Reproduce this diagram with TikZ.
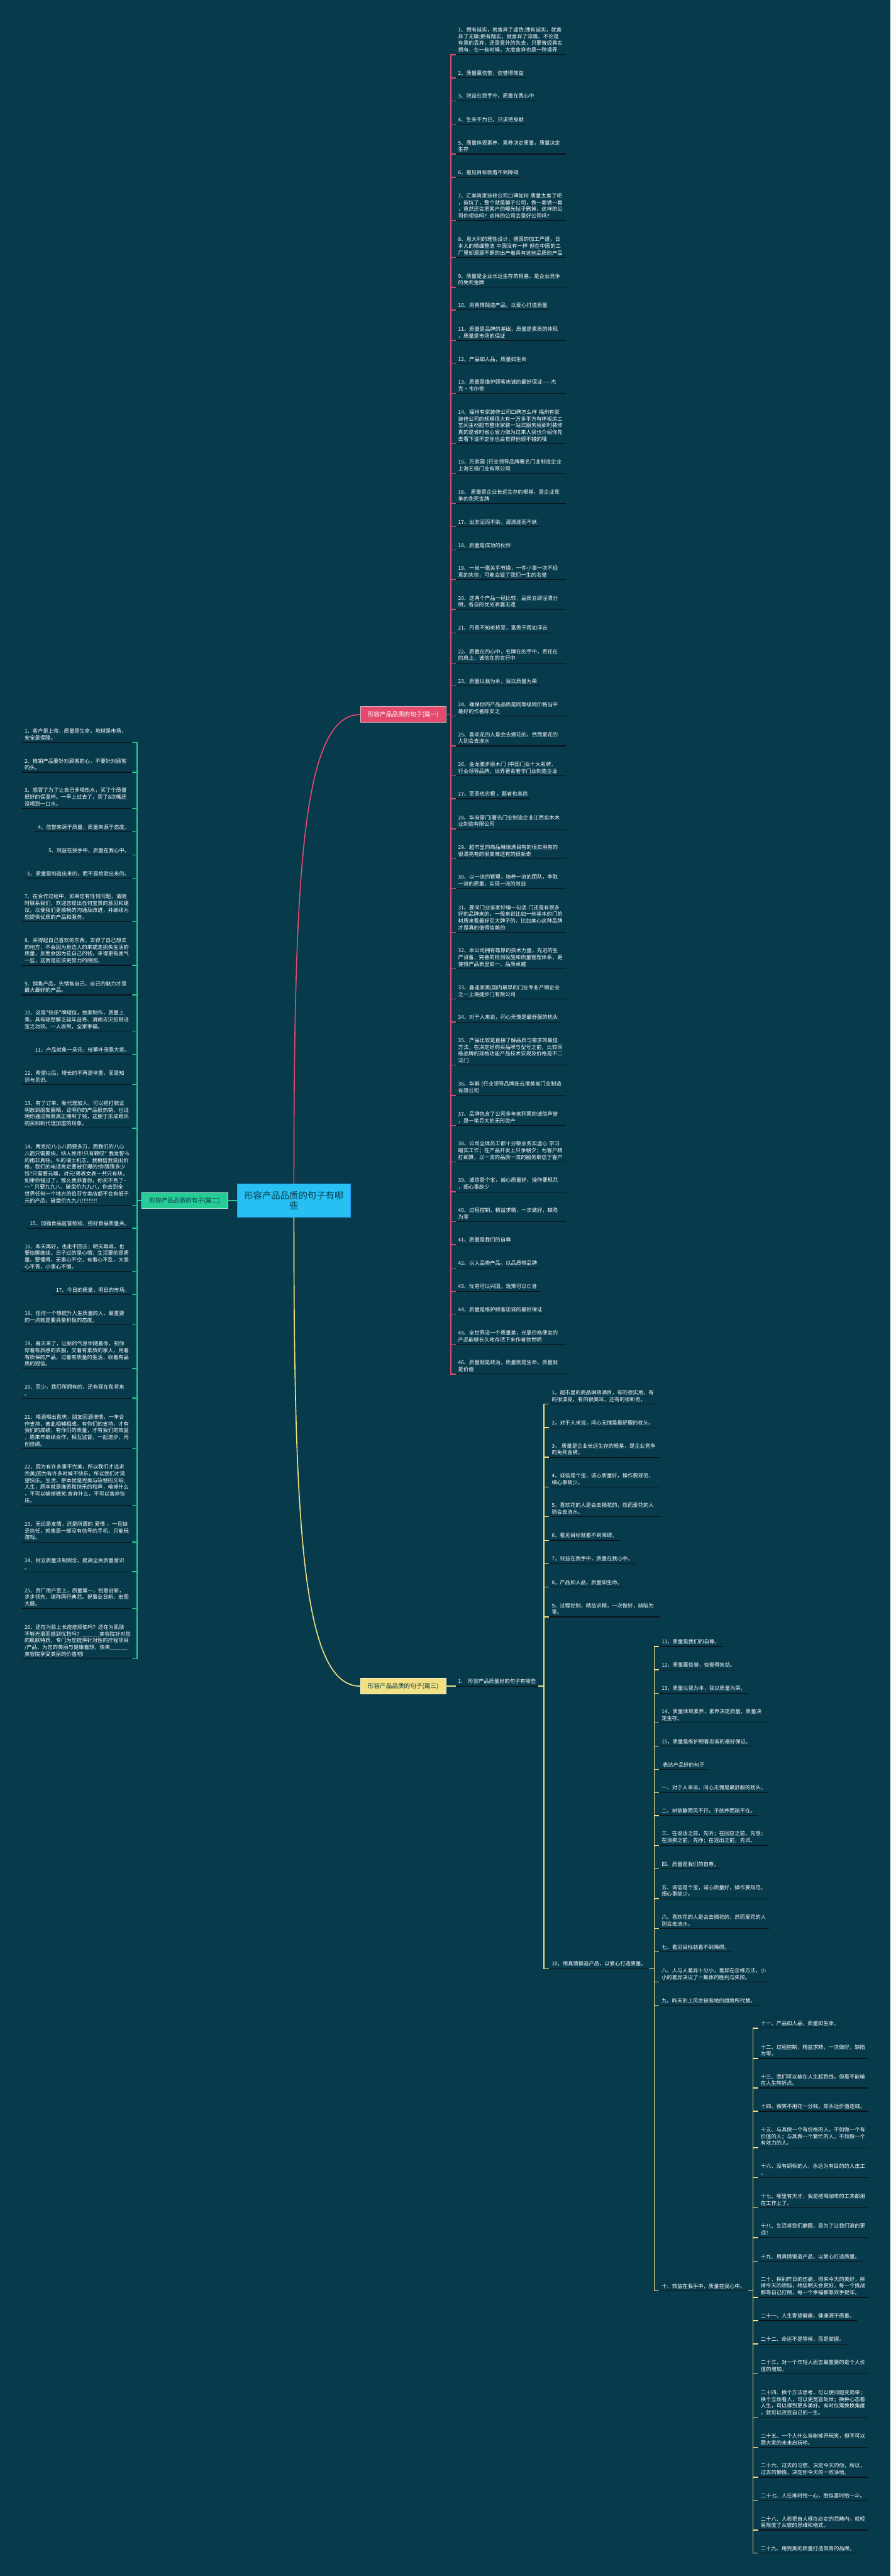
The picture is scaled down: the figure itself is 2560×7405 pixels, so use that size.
\documentclass[tikz,border=0pt]{standalone}
\usepackage{fontspec}
\newfontfamily\cjk{Noto Sans CJK SC}
\newcommand\leaffont{\cjk\fontsize{7.5}{9.65}\selectfont}
\newcommand\labelfont{\cjk\fontsize{8.7}{10}\selectfont}
\definecolor{bgcol}{RGB}{7,58,75}
\definecolor{pinkc}{RGB}{228,74,110}
\definecolor{greenc}{RGB}{38,204,150}
\definecolor{yellowc}{RGB}{242,224,130}
\definecolor{rootc}{RGB}{40,192,242}
\definecolor{ulinec}{RGB}{10,18,24}

\begin{document}
\begin{tikzpicture}[x=0.5pt, y=-0.5pt,
  every node/.style={font=\leaffont},
  leaf/.style={text=white, align=left, inner xsep=3.5pt, inner ysep=3pt,
    append after command={(\tikzlastnode.south west) edge[uline] (\tikzlastnode.south east)}},
  wide/.style={text width=151pt},
  uline/.style={draw=ulinec, line width=1pt},
  pinkline/.style={draw=pinkc, line width=1.2pt},
  greenline/.style={draw=greenc, line width=1.2pt},
  yellowline/.style={draw=yellowc, line width=1.2pt},
  branch/.style={font=\labelfont, minimum width=123pt, minimum height=22.5pt, inner sep=2pt}]
  \fill[bgcol] (0,0) rectangle (2560,7405);

  % centre and the three branches
  \node[fill=rootc, draw=rootc!80!blue, text=bgcol, font=\cjk\fontsize{13}{15}\selectfont, minimum width=163pt, minimum height=47.5pt, align=center] (root) at (845,3451) {形容产品品质的句子有哪\\些};
  \node[branch, fill=pinkc, draw=pinkc!40!white, text=white] (p1) at (1159,2054) {形容产品品质的句子(篇一)};
  \node[branch, fill=greenc, draw=greenc!40!white, text=bgcol] (p2) at (531,3451) {形容产品品质的句子(篇二)};
  \node[branch, fill=yellowc, draw=yellowc!40!white, text=bgcol] (p3) at (1159,4847) {形容产品品质的句子(篇三)};
  \draw[pinkline, line width=1.5pt] (root) .. controls (845,2500) and (870,2054) .. (p1.west);
  \draw[greenline, line width=1.5pt] (root) -- (p2);
  \draw[yellowline, line width=1.5pt] (root) .. controls (845,4400) and (870,4847) .. (p3.west);

  % 篇一
  \node[leaf, wide, anchor=south west] (a1) at (1310,157) {1、拥有诚实，就舍弃了虚伪;拥有诚实，就舍\\弃了无聊;拥有踏实，就舍弃了浮躁，不论是\\有意的丢弃，还是意外的失去，只要曾经真实\\拥有，在一些时候，大度舍弃也是一种境界};
  \node[leaf, anchor=south west] (a2) at (1310,224) {2、质量赢信誉，信誉得效益};
  \node[leaf, anchor=south west] (a3) at (1310,290) {3、效益在我手中，质量在我心中};
  \node[leaf, anchor=south west] (a4) at (1310,357) {4、生来不为已，只求把身献};
  \node[leaf, wide, anchor=south west] (a5) at (1310,443) {5、质量体现素养，素养决定质量，质量决定\\生存};
  \node[leaf, anchor=south west] (a6) at (1310,510) {6、看见目标就看不到障碍};
  \node[leaf, wide, anchor=south west] (a7) at (1310,634) {7、汇美筑家装修公司口碑如何 质量太差了吧\\，被坑了，整个就是骗子公司，做一套做一套\\，竟然还会把客户的曝光帖子删掉，这样的公\\司你相信吗？这样的公司会是好公司吗？};
  \node[leaf, wide, anchor=south west] (a8) at (1310,740) {8、意大利的理性设计，德国的加工严谨，日\\本人的精细整洁 中国没有一样 但在中国的工\\厂里却源源不断的出产着具有这些品质的产品};
  \node[leaf, wide, anchor=south west] (a9) at (1310,826) {9、质量是企业长远生存的根基，是企业竞争\\的免死金牌};
  \node[leaf, anchor=south west] (a10) at (1310,891) {10、用真情锻造产品，以爱心打造质量};
  \node[leaf, wide, anchor=south west] (a11) at (1310,979) {11、质量是品牌的基础，质量是素质的体现\\，质量是市场的保证};
  \node[leaf, anchor=south west] (a12) at (1310,1046) {12、产品如人品，质量如生命};
  \node[leaf, wide, anchor=south west] (a13) at (1310,1131) {13、质量是维护顾客忠诚的最好保证——杰\\克·韦尔奇};
  \node[leaf, wide, anchor=south west] (a14) at (1310,1275) {14、福州有家装修公司口碑怎么样 福州有家\\装修公司的规模很大有一万多平方有样板房工\\艺间主材超市整体家装一站式服务我那时装修\\真的是省时省心省力做为过来人我也介绍你先\\去看下说不定你也会觉得他很不错的哦};
  \node[leaf, wide, anchor=south west] (a15) at (1310,1361) {15、万家园 (行业领导品牌著名门业制造企业\\上海艺极门业有限公司};
  \node[leaf, wide, anchor=south west] (a16) at (1310,1447) {16、 质量是企业长远生存的根基，是企业竞\\争的免死金牌};
  \node[leaf, anchor=south west] (a17) at (1310,1514) {17、出淤泥而不染，濯清涟而不妖};
  \node[leaf, anchor=south west] (a18) at (1310,1581) {18、质量是成功的伙伴};
  \node[leaf, wide, anchor=south west] (a19) at (1310,1666) {19、一丝一毫关乎节操，一件小事一次不经\\意的失信，可能会毁了我们一生的名誉};
  \node[leaf, wide, anchor=south west] (a20) at (1310,1752) {20、这两个产品一经比较，品质立即泾渭分\\明，各自的优劣表露无遗};
  \node[leaf, anchor=south west] (a21) at (1310,1819) {21、丹青不知老将至，富贵于我如浮云};
  \node[leaf, wide, anchor=south west] (a22) at (1310,1906) {22、质量在的心中，名牌在的手中，责任在\\的肩上，诚信在的言行中};
  \node[leaf, anchor=south west] (a23) at (1310,1972) {23、质量以我为本，我以质量为荣};
  \node[leaf, wide, anchor=south west] (a24) at (1310,2058) {24、确保你的产品品质是同等级同价格当中\\最好的作者陈安之};
  \node[leaf, wide, anchor=south west] (a25) at (1310,2144) {25、喜欢花的人是会去摘花的，然而爱花的\\人则会去浇水};
  \node[leaf, wide, anchor=south west] (a26) at (1310,2230) {26、金龙雅步原木门 (中国门业十大名牌，\\行业领导品牌，世界著名奢华门业制造企业};
  \node[leaf, anchor=south west] (a27) at (1310,2296) {27、至圣也劣根 ，鄙者也高尚};
  \node[leaf, wide, anchor=south west] (a28) at (1310,2383) {28、华府豪门(著名门业制造企业江西实木木\\业制造有限公司};
  \node[leaf, wide, anchor=south west] (a29) at (1310,2469) {29、超市里的商品琳琅满目有的很实用有的\\很漂亮有的很美味还有的很新奇};
  \node[leaf, wide, anchor=south west] (a30) at (1310,2554) {30、以一流的管理，培养一流的团队，争取\\一流的质量，实现一流的效益};
  \node[leaf, wide, anchor=south west] (a31) at (1310,2680) {31、要问门业谁家好编一句话 门还是有很多\\好的品牌来的，一般来说比如一些基本的门的\\材质来看最好买大牌子的，比如美心这种品牌\\才是真的值得信赖的};
  \node[leaf, wide, anchor=south west] (a32) at (1310,2785) {32、本公司拥有雄厚的技术力量，先进的生\\产设备，完善的检测设施和质量管理体系，更\\使得产品表里如一，品质卓越};
  \node[leaf, wide, anchor=south west] (a33) at (1310,2872) {33、鑫迪家美(国内最早的门业专业产销企业\\之一上海捷步门有限公司};
  \node[leaf, anchor=south west] (a34) at (1310,2938) {34、对于人来说，问心无愧是最舒服的枕头};
  \node[leaf, wide, anchor=south west] (a35) at (1310,3062) {35、产品比较是直接了解品质与需求的最佳\\方法，在决定好购买品牌与型号之前，比较同\\级品牌的规格功能产品技术安规及价格是不二\\法门};
  \node[leaf, wide, anchor=south west] (a36) at (1310,3149) {36、华鹤 (行业领导品牌连云港美高门业制造\\有限公司};
  \node[leaf, wide, anchor=south west] (a37) at (1310,3235) {37、品牌包含了公司多年来积累的诚信声誉\\，是一笔巨大的无形资产};
  \node[leaf, wide, anchor=south west] (a38) at (1310,3340) {38、公司全体员工都十分敬业务实虚心 学习\\踏实工作；在产品开发上只争朝夕；为客户精\\打细算，以一流的品质一流的服务取信于客户};
  \node[leaf, wide, anchor=south west] (a39) at (1310,3426) {39、诚信是个宝，诚心质量好，操作要规范\\，细心事故少};
  \node[leaf, wide, anchor=south west] (a40) at (1310,3512) {40、过程控制，精益求精，一次做好，缺陷\\为零};
  \node[leaf, anchor=south west] (a41) at (1310,3578) {41、质量是我们的自尊};
  \node[leaf, anchor=south west] (a42) at (1310,3645) {42、以人品带产品，以品质带品牌};
  \node[leaf, anchor=south west] (a43) at (1310,3712) {43、忧劳可以兴国，逸豫可以亡身};
  \node[leaf, anchor=south west] (a44) at (1310,3778) {44、质量是维护顾客忠诚的最好保证};
  \node[leaf, wide, anchor=south west] (a45) at (1310,3864) {45、全世界没一个质量差，光靠价格便宜的\\产品能够长久地存活下来作者徐世明};
  \node[leaf, wide, anchor=south west] (a46) at (1310,3950) {46、质量就是政治，质量就是生命，质量就\\是价值};
  \coordinate (s1) at (1296,2054);
  \draw[pinkline] (p1.east) -- (s1);
  \foreach \i in {1,...,46} \draw[pinkline] (s1) |- (a\i.south west);

  % 篇二
  \node[leaf, wide, anchor=south east] (b1) at (380,2134) {1、客户是上帝，质量是生命，地球是市场，\\安全是保障。};
  \node[leaf, wide, anchor=south east] (b2) at (380,2220) {2、推销产品要针对顾客的心，不要针对顾客\\的头。};
  \node[leaf, wide, anchor=south east] (b3) at (380,2324) {3、感冒了为了让自己多喝热水，买了个质量\\很好的保温杯。一早上过去了，烫了8次嘴还\\没喝到一口水。};
  \node[leaf, anchor=south east] (b4) at (380,2391) {4、信誉来源于质量，质量来源于态度。};
  \node[leaf, anchor=south east] (b5) at (380,2458) {5、效益在我手中，质量在我心中。};
  \node[leaf, anchor=south east] (b6) at (380,2525) {6、质量是制造出来的，而不是检验出来的。};
  \node[leaf, wide, anchor=south east] (b7) at (380,2649) {7、在合作过程中，如果您有任何问题，请随\\时联系我们，欢迎您提出任何宝贵的意见和建\\议。以便我们更顺畅的沟通及改进，并继续为\\您提供优质的产品和服务。};
  \node[leaf, wide, anchor=south east] (b8) at (380,2775) {8、买得起自己喜欢的东西，去得了自己想去\\的地方，不会因为身边人的来或走损失生活的\\质量，反而会因为花自己的钱，来得更有底气\\一些，这就是应该更努力的原因。};
  \node[leaf, wide, anchor=south east] (b9) at (380,2860) {9、销售产品，先销售自己，自己的魅力才是\\最大最好的产品。};
  \node[leaf, wide, anchor=south east] (b10) at (380,2964) {10、这是"快乐"牌短信，独家制作，质量上\\乘，具有驱愁解乏延年益寿、消病去灾招财进\\宝之功效。一人收到，全家幸福。};
  \node[leaf, anchor=south east] (b11) at (380,3031) {11、产品就象一朵花，枝繁叶茂靠大家。};
  \node[leaf, wide, anchor=south east] (b12) at (380,3118) {12、希望以后，增长的不再是体重，而是知\\识与见识。};
  \node[leaf, wide, anchor=south east] (b13) at (380,3243) {13、有了订单、新代理加入，可以把打款证\\明放到朋友圈晒，证明你的产品很热销，也证\\明你通过微商真正赚到了钱，这便于形成跟风\\购买和新代理加盟的现象。};
  \node[leaf, wide, anchor=south east] (b14) at (380,3465) {14、两克拉八心八箭要多万，而我们的八心\\八箭只需要块，块人民币!只有颗哎" 我发誓\%\\的南非真钻。\%的瑞士机芯，我相信我说出价\\格，我们的电话肯定要被打爆的!你猜猜多少\\钱?只需要元噢，对元!男表女表一共只有块，\\如果你错过了，那么我恭喜你，你买不到了\textasciitilde\\\textasciitilde\textasciitilde" 只要九九八，破盘价九九八，你去到全\\世界任何一个地方的伯芬专卖店都不会有低于\\元的产品，破盘价九九八!!!!!!!!!};
  \node[leaf, anchor=south east] (b15) at (380,3531) {15、加强食品监督检验，把好食品质量关。};
  \node[leaf, wide, anchor=south east] (b16) at (380,3655) {16、昨天再好，也走不回去；明天再难，也\\要抬脚继续。日子过的是心情；生活要的是质\\量。要懂得，无事心不空，有事心不乱，大事\\心不畏，小事心不慢。};
  \node[leaf, anchor=south east] (b17) at (380,3722) {17、今日的质量，明日的市场。};
  \node[leaf, wide, anchor=south east] (b18) at (380,3808) {18、任何一个想提升人生质量的人，最重要\\的一点就是要具备积极的态度。};
  \node[leaf, wide, anchor=south east] (b19) at (380,3934) {19、春天来了，让新的气息伴随着你。祝你\\穿着有质感的衣服，交着有素质的家人，用着\\有质保的产品，过着有质量的生活，收着有品\\质的短信。};
  \node[leaf, wide, anchor=south east] (b20) at (380,4019) {20、至少，我们所拥有的，还有现在和将来\\。};
  \node[leaf, wide, anchor=south east] (b21) at (380,4164) {21、喝酒喝出喜庆，朋友因酒增情，一年合\\作支持，彼此相辅相成，有你们的支持，才有\\我们的成绩，有你们的质量，才有我们的效益\\，愿来年继续合作，相互监督，一起进步，再\\创佳绩。};
  \node[leaf, wide, anchor=south east] (b22) at (380,4327) {22、因为有许多事不完美，所以我们才追求\\完美;因为有许多时候不快乐，所以我们才渴\\望快乐。生活，原本就是完美与缺憾的交响;\\人生，原本就是痛苦和快乐的和声，输掉什么\\，不可以输掉微笑;舍弃什么，不可以舍弃快\\乐。};
  \node[leaf, wide, anchor=south east] (b23) at (380,4433) {23、无论是友情，还是所谓的 爱情 ，一旦缺\\乏信任，就像是一部没有信号的手机，只能玩\\游戏。};
  \node[leaf, wide, anchor=south east] (b24) at (380,4518) {24、树立质量法制观念，提高全民质量意识\\。};
  \node[leaf, wide, anchor=south east] (b25) at (380,4624) {25、贵厂用户至上，质量第一，锐意创新，\\步步领先，堪称同行典范。祝事业日新，宏图\\大展。};
  \node[leaf, wide, anchor=south east] (b26) at (380,4768) {26、还在为脸上长痘痘烦恼吗？还在为肌肤\\不够光滑而感到忧愁吗？\_\_\_\_\_\_美容院针对您\\的肌肤特质，专门为您提供针对性的疗程项目\\/产品，为您的美丽与健康着想，快来\_\_\_\_\_\_\\美容院享受美丽的价值吧!};
  \coordinate (s2) at (394,3451);
  \draw[greenline] (p2.west) -- (s2);
  \foreach \i in {1,...,26} \draw[greenline] (s2) |- (b\i.south east);

  % 篇三
  \node[leaf, anchor=south west] (c0) at (1310,4847) {1.\hspace{8pt}形容产品质量好的句子有哪些};
  \draw[yellowline] (p3.east) -- (c0.south west);
  \node[leaf, wide, anchor=south west] (ca1) at (1579,4036) {1，超市里的商品琳琅满目，有的很实用，有\\的很漂亮，有的很美味，还有的很新奇。};
  \node[leaf, anchor=south west] (ca2) at (1579,4104) {2，对于人来说，问心无愧是最舒服的枕头。};
  \node[leaf, wide, anchor=south west] (ca3) at (1579,4189) {3， 质量是企业长远生存的根基，是企业竞争\\的免死金牌。};
  \node[leaf, wide, anchor=south west] (ca4) at (1579,4275) {4，诚信是个宝，诚心质量好，操作要规范，\\细心事故少。};
  \node[leaf, wide, anchor=south west] (ca5) at (1579,4360) {5，喜欢花的人是会去摘花的，然而爱花的人\\则会去浇水。};
  \node[leaf, anchor=south west] (ca6) at (1579,4428) {6，看见目标就看不到障碍。};
  \node[leaf, anchor=south west] (ca7) at (1579,4495) {7，效益在我手中，质量在我心中。};
  \node[leaf, anchor=south west] (ca8) at (1579,4562) {8，产品如人品，质量如生命。};
  \node[leaf, wide, anchor=south west] (ca9) at (1579,4648) {9，过程控制，精益求精，一次做好，缺陷为\\零。};
  \node[leaf, anchor=south west] (ca10) at (1579,5659) {10，用真情锻造产品，以爱心打造质量。};
  \coordinate (s3) at (1564,4847);
  \draw[yellowline] (c0.south east) -- (s3);
  \foreach \i in {1,...,10} \draw[yellowline] (s3) |- (ca\i.south west);

  \node[leaf, anchor=south west] (cb1) at (1895,4733) {11，质量是我们的自尊。};
  \node[leaf, anchor=south west] (cb2) at (1895,4800) {12，质量赢信誉，信誉得效益。};
  \node[leaf, anchor=south west] (cb3) at (1895,4867) {13，质量以我为本，我以质量为荣。};
  \node[leaf, wide, anchor=south west] (cb4) at (1895,4953) {14，质量体现素养，素养决定质量，质量决\\定生存。};
  \node[leaf, anchor=south west] (cb5) at (1895,5020) {15，质量是维护顾客忠诚的最好保证。};
  \node[leaf, anchor=south west] (cb6) at (1895,5086) {\ 表达产品好的句子};
  \node[leaf, anchor=south west] (cb7) at (1895,5153) {一、对于人来说，问心无愧是最舒服的枕头。};
  \node[leaf, anchor=south west] (cb8) at (1895,5219) {二、树欲静而风不行，子欲养而疏不在。};
  \node[leaf, wide, anchor=south west] (cb9) at (1895,5305) {三、在说话之前，先听；在回应之前，先想；\\在消费之前，先挣；在退出之前，先试。};
  \node[leaf, anchor=south west] (cb10) at (1895,5372) {四、质量是我们的自尊。};
  \node[leaf, wide, anchor=south west] (cb11) at (1895,5458) {五、诚信是个宝，诚心质量好，操作要规范，\\细心事故少。};
  \node[leaf, wide, anchor=south west] (cb12) at (1895,5544) {六、喜欢花的人是会去摘花的，然而爱花的人\\则会去浇水。};
  \node[leaf, anchor=south west] (cb13) at (1895,5611) {七、看见目标就看不到障碍。};
  \node[leaf, wide, anchor=south west] (cb14) at (1895,5697) {八、人与人差异十分小，差异在念维方法，小\\小的差异决议了一集体的胜利与失败。};
  \node[leaf, anchor=south west] (cb15) at (1895,5764) {九、昨天的上风会被高地的趋势所代替。};
  \node[leaf, anchor=south west] (cb16) at (1895,6585) {十、效益在我手中，质量在我心中。};
  \coordinate (s4) at (1881,5659);
  \draw[yellowline] (ca10.south east) -- (s4);
  \foreach \i in {1,...,16} \draw[yellowline] (s4) |- (cb\i.south west);

  \node[leaf, anchor=south west] (cc1) at (2180,5830) {十一、产品如人品，质量如生命。};
  \node[leaf, wide, anchor=south west] (cc2) at (2180,5917) {十二、过程控制，精益求精，一次做好，缺陷\\为零。};
  \node[leaf, wide, anchor=south west] (cc3) at (2180,6002) {十三、我们可以输在人生起跑线，但毫不能输\\在人生转折点。};
  \node[leaf, wide, anchor=south west] (cc4) at (2180,6069) {十四、微笑不用花一分钱，却永远价值连城。};
  \node[leaf, wide, anchor=south west] (cc5) at (2180,6174) {十五、与其做一个有价格的人，不如做一个有\\价值的人；与其做一个繁忙的人，不如做一个\\有效力的人。};
  \node[leaf, wide, anchor=south west] (cc6) at (2180,6260) {十六、没有纲标的人，永远为有目的的人击工\\。};
  \node[leaf, wide, anchor=south west] (cc7) at (2180,6346) {十七、哪里有天才，我是把喝咖啡的工夫都用\\在工作上了。};
  \node[leaf, wide, anchor=south west] (cc8) at (2180,6432) {十八、生活将我们磨圆，是为了让我们滚的更\\远！};
  \node[leaf, anchor=south west] (cc9) at (2180,6500) {十九、用真情锻造产品，以爱心打造质量。};
  \node[leaf, wide, anchor=south west] (cc10) at (2180,6604) {二十、挥别昨日的伤痛，得来今天的美好，摔\\掉今天的烦恼，相信明天会更好，每一个挑战\\都靠自己打倒，每一个幸福都靠双手捉牢。};
  \node[leaf, anchor=south west] (cc11) at (2180,6671) {二十一、人生寄望健康，健康源于质量。};
  \node[leaf, anchor=south west] (cc12) at (2180,6738) {二十二、命运不是等候，而是掌握。};
  \node[leaf, wide, anchor=south west] (cc13) at (2180,6824) {二十三、对一个年轻人而言最重要的是个人价\\值的增加。};
  \node[leaf, wide, anchor=south west] (cc14) at (2180,6949) {二十四、换个方法思考，可以使问题变简单；\\换个立场看人，可以更宽容处世；换种心态看\\人生，可以得到更多美好。有时仅需换换角度\\，就可以改变自己的一生。};
  \node[leaf, wide, anchor=south west] (cc15) at (2180,7035) {二十五、一个人什么皆能够开玩笑，但不可以\\跟大家的未来启玩啼。};
  \node[leaf, wide, anchor=south west] (cc16) at (2180,7121) {二十六、过去的习惯，决定今天的你，所以，\\过去的懒惰，决定你今天的一败涂地。};
  \node[leaf, wide, anchor=south west] (cc17) at (2180,7187) {二十七、人在难时给一心，胜似富时给一斗。};
  \node[leaf, wide, anchor=south west] (cc18) at (2180,7273) {二十八、人若把自人框在必定的范畴内，就轻\\易限度了从彼的思维和格式。};
  \node[leaf, anchor=south west] (cc19) at (2180,7339) {二十九、用完美的质量打造常青的品牌。};
  \coordinate (s5) at (2165,6585);
  \draw[yellowline] (cb16.south east) -- (s5);
  \foreach \i in {1,...,19} \draw[yellowline] (s5) |- (cc\i.south west);
\end{tikzpicture}
\end{document}
